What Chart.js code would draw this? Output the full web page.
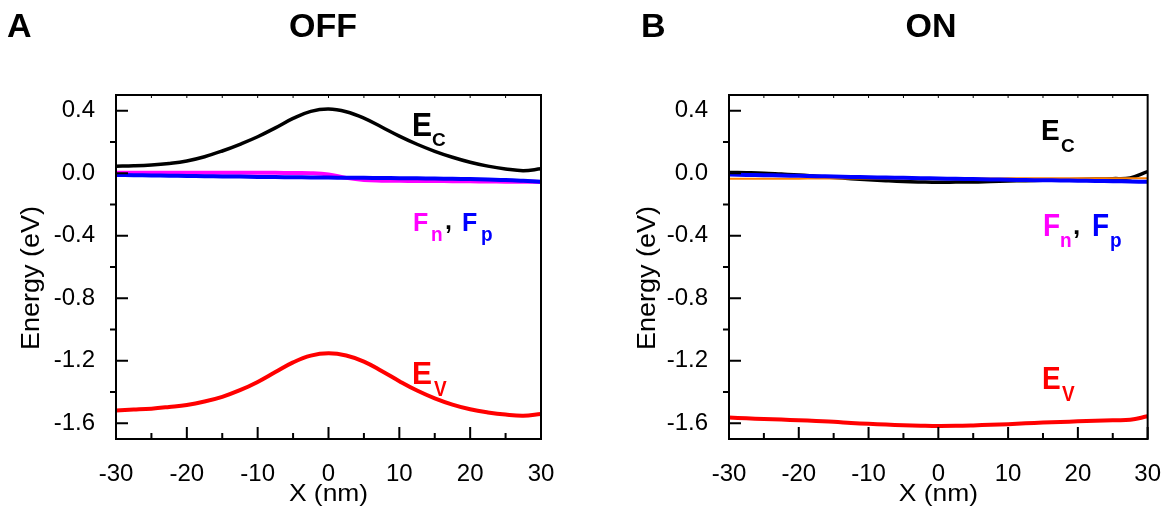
<!DOCTYPE html>
<html>
<head>
<meta charset="utf-8">
<script src="https://cdn.jsdelivr.net/npm/chart.js@4.4.1/dist/chart.umd.min.js"></script>
<style>
  body { margin: 0; background: #fff; }
  #wrap { position: relative; width: 1174px; height: 512px; }
  canvas { position: absolute; top: 0; }
</style>
</head>
<body>
<div id="wrap">
  <canvas id="offChart" width="587" height="512" style="left:0"></canvas>
  <canvas id="onChart" width="587" height="512" style="left:587px"></canvas>
</div>
<script>
// positions (nm)
const xNm = [-30, -27.5, -25, -22.5, -20, -17.5, -15, -12.5, -10, -7.5, -5, -2.5, 0,
             2.5, 5, 7.5, 10, 12.5, 15, 17.5, 20, 22.5, 25, 27.5, 30];

// OFF
const offEc = [0.045, 0.047, 0.052, 0.062, 0.078, 0.105, 0.142, 0.185, 0.233, 0.29, 0.35, 0.395, 0.41,
               0.393, 0.352, 0.295, 0.237, 0.185, 0.14, 0.102, 0.07, 0.045, 0.027, 0.016, 0.028];
const offEv = [-1.517, -1.512, -1.506, -1.495, -1.482, -1.46, -1.43, -1.388, -1.335, -1.272, -1.21, -1.167, -1.152,
               -1.166, -1.205, -1.265, -1.33, -1.39, -1.44, -1.48, -1.51, -1.53, -1.544, -1.551, -1.54];
const offFn = [0.002, 0.002, 0.002, 0.002, 0.002, 0.002, 0.002, 0.002, 0.002, 0.002, 0.001, 0.0, -0.008,
               -0.03, -0.044, -0.048, -0.049, -0.05, -0.05, -0.051, -0.052, -0.053, -0.054, -0.055, -0.056];
const offFp = [-0.012, -0.013, -0.015, -0.016, -0.018, -0.019, -0.021, -0.022, -0.024, -0.025, -0.026, -0.027, -0.028,
               -0.029, -0.03, -0.031, -0.032, -0.033, -0.034, -0.036, -0.038, -0.041, -0.044, -0.049, -0.055];

// ON
const onEc = [0.005, 0.003, 0.0, -0.006, -0.012, -0.02, -0.028, -0.035, -0.042, -0.048, -0.053, -0.056, -0.058,
              -0.057, -0.056, -0.053, -0.05, -0.048, -0.045, -0.043, -0.04, -0.038, -0.035, -0.03, 0.01];
const onFn = [-0.035, -0.035, -0.035, -0.035, -0.035, -0.034, -0.034, -0.034, -0.034, -0.034, -0.034, -0.034, -0.034,
              -0.034, -0.034, -0.034, -0.033, -0.033, -0.033, -0.033, -0.033, -0.033, -0.032, -0.032, -0.032];
const onFp = [-0.009, -0.011, -0.013, -0.015, -0.017, -0.019, -0.021, -0.024, -0.026, -0.028, -0.03, -0.032, -0.034,
              -0.036, -0.038, -0.04, -0.042, -0.044, -0.045, -0.047, -0.048, -0.05, -0.051, -0.053, -0.055];
const onEv = [-1.563, -1.568, -1.572, -1.576, -1.58, -1.585, -1.59, -1.597, -1.603, -1.608, -1.612, -1.615, -1.617,
              -1.616, -1.613, -1.609, -1.605, -1.6, -1.595, -1.591, -1.587, -1.583, -1.58, -1.577, -1.555];

const xTickLabels = [-30, -20, -10, 0, 10, 20, 30];
const yTickLabels = [-1.6, -1.2, -0.8, -0.4, 0.0, 0.4];
const yMinorTicks = [-1.4, -1.0, -0.6, -0.2, 0.2];

const FONT = "'Liberation Sans', Arial, sans-serif";
Chart.defaults.font.family = FONT;
Chart.defaults.color = '#000';

function line(values, color, width) {
    return {
        data: xNm.map((x, i) => ({ x: x, y: values[i] })),
        borderColor: color,
        borderWidth: width,
        pointRadius: 0,
        fill: false,
        tension: 0.4
    };
}

// cadre + graduations (majeures vers l'intérieur, mineures de y vers l'extérieur)
const frameTicks = {
    id: 'frameTicks',
    afterDatasetsDraw(chart) {
        const { ctx, chartArea: a, scales: { x, y } } = chart;
        ctx.save();
        ctx.strokeStyle = '#000';
        ctx.lineWidth = 2;
        ctx.strokeRect(a.left, a.top, a.right - a.left, a.bottom - a.top);
        ctx.beginPath();
        for (let v = -30; v <= 30; v += 5) {
            const px = x.getPixelForValue(v);
            const len = v % 10 === 0 ? 12 : 6;
            ctx.moveTo(px, a.bottom);
            ctx.lineTo(px, a.bottom - len);
        }
        yTickLabels.forEach(v => {
            const py = y.getPixelForValue(v);
            ctx.moveTo(a.left, py);
            ctx.lineTo(a.left + 12, py);
        });
        yMinorTicks.forEach(v => {
            const py = y.getPixelForValue(v);
            ctx.moveTo(a.left, py);
            ctx.lineTo(a.left - 6, py);
        });
        ctx.stroke();
        ctx.lineWidth = 1;
        ctx.beginPath();
        for (let v = -25; v <= 25; v += 5) {
            const px = x.getPixelForValue(v);
            ctx.moveTo(px, a.top);
            ctx.lineTo(px, a.top + 3);
        }
        ctx.stroke();
        ctx.restore();
    }
};

// textes : lettre du panneau, titre, titres d'axes, étiquettes des bandes
const bandText = {
    id: 'bandText',
    afterDraw(chart, args, opts) {
        const ctx = chart.ctx;
        const a = chart.chartArea;
        (opts.runs || []).forEach(r => {
            ctx.save();
            // r.cx : centre horizontal de la zone de tracé
            const x = r.cx ? (a.left + a.right) / 2 : r.x;
            ctx.translate(x, r.y);
            if (r.rot) ctx.rotate(-Math.PI / 2);
            ctx.scale(r.sx || 1, r.sy || 1);
            ctx.font = (r.normal ? '' : 'bold ') + r.size + 'px ' + FONT;
            ctx.fillStyle = r.color || '#000';
            ctx.textAlign = r.align || 'left';
            ctx.textBaseline = r.baseline || 'alphabetic';
            ctx.fillText(r.t, 0, 0);
            ctx.restore();
        });
    }
};

function makeChart(id, datasets, yWidth, padRight, runs) {
    return new Chart(document.getElementById(id), {
        type: 'line',
        data: { datasets: datasets },
        plugins: [frameTicks, bandText],
        options: {
            responsive: false,
            animation: false,
            events: [],
            layout: { padding: { left: 0, right: padRight, top: 95, bottom: 0 } },
            plugins: {
                legend: { display: false },
                tooltip: { enabled: false },
                bandText: { runs: runs }
            },
            scales: {
                x: {
                    type: 'linear',
                    min: -30, max: 30,
                    grid: { display: false },
                    border: { display: false },
                    afterBuildTicks: s => { s.ticks = xTickLabels.map(v => ({ value: v })); },
                    afterFit: s => { s.height = 73; },
                    ticks: { font: { size: 24 }, padding: 13, maxRotation: 0, autoSkip: false }
                },
                y: {
                    min: -1.7, max: 0.5,
                    grid: { display: false },
                    border: { display: false },
                    afterBuildTicks: s => { s.ticks = yTickLabels.map(v => ({ value: v })); },
                    afterFit: s => { s.width = yWidth; },
                    ticks: { font: { size: 24 }, padding: 13, callback: v => v.toFixed(1) }
                }
            }
        }
    });
}

makeChart('offChart', [
    line(offFp, '#0000ff', 4),
    line(offFn, '#ff00ff', 4),
    line(offEc, '#000000', 3.5),
    line(offEv, '#ff0000', 4)
], 116, 46, [
    { t: 'A', x: 7, y: 37, size: 34 },
    { t: 'OFF', x: 323, y: 37, size: 34, align: 'center' },
    { t: 'Energy (eV)', x: 32, y: 278, size: 25, sx: 1.08, rot: true, normal: true, align: 'center', baseline: 'middle' },
    { t: 'X (nm)', cx: true, y: 494, size: 24, sx: 1.1, normal: true, align: 'center', baseline: 'middle' },
    { t: 'E', x: 412, y: 136, size: 30, sy: 1.1 },
    { t: 'C', x: 432, y: 145.5, size: 19 },
    { t: 'E', x: 412, y: 384, size: 30, sy: 1.05, color: '#ff0000' },
    { t: 'V', x: 434, y: 396, size: 19, sy: 1.15, color: '#ff0000' },
    { t: 'F', x: 413, y: 231, size: 25, color: '#ff00ff' },
    { t: 'n', x: 431, y: 240.7, size: 19, sy: 1.1, color: '#ff00ff' },
    { t: ',', x: 445, y: 229, size: 25 },
    { t: 'F', x: 462, y: 231, size: 25, color: '#0000ff' },
    { t: 'p', x: 481, y: 240.7, size: 19, sy: 1.1, color: '#0000ff' }
]);

makeChart('onChart', [
    line(onFp, '#0000ff', 4),
    line(onFn, '#ff8000', 2),
    line(onEc, '#000000', 3.5),
    line(onEv, '#ff0000', 4)
], 142, 20, [
    { t: 'B', x: 54, y: 37, size: 34 },
    { t: 'ON', x: 344, y: 37, size: 34, align: 'center' },
    { t: 'Energy (eV)', x: 61, y: 278, size: 25, sx: 1.08, rot: true, normal: true, align: 'center', baseline: 'middle' },
    { t: 'X (nm)', cx: true, y: 494, size: 24, sx: 1.1, normal: true, align: 'center', baseline: 'middle' },
    { t: 'E', x: 454, y: 140, size: 28, sy: 1.05 },
    { t: 'C', x: 474, y: 152, size: 19 },
    { t: 'E', x: 455, y: 389, size: 28, sy: 1.1, color: '#ff0000' },
    { t: 'V', x: 475, y: 401, size: 19, sy: 1.15, color: '#ff0000' },
    { t: 'F', x: 456, y: 236, size: 28, sy: 1.1, color: '#ff00ff' },
    { t: 'n', x: 473, y: 247, size: 19, sy: 1.1, color: '#ff00ff' },
    { t: ',', x: 486, y: 234, size: 26 },
    { t: 'F', x: 505, y: 236, size: 28, sy: 1.1, color: '#0000ff' },
    { t: 'p', x: 523, y: 247, size: 19, sy: 1.1, color: '#0000ff' }
]);
</script>
</body>
</html>
